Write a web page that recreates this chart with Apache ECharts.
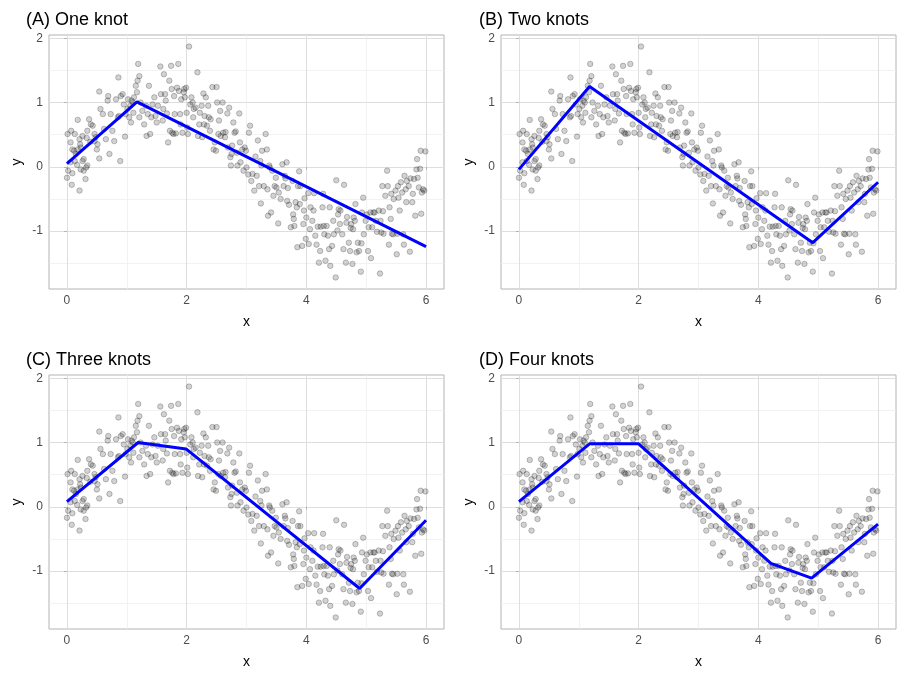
<!DOCTYPE html>
<html>
<head>
<meta charset="utf-8">
<script src="https://cdn.jsdelivr.net/npm/echarts@6/dist/echarts.min.js"></script>
<style>
  html, body { margin: 0; padding: 0; background: #fff; }
  #main { width: 905px; height: 679px; }
</style>
</head>
<body>
<div id="main"></div>
<script>
const points = [
  [0.00,-0.17],[0.02,-0.06],[0.06,0.07],[0.01,0.51],[0.07,0.56],[0.13,0.51],[0.06,0.38],[0.09,0.27],
  [0.12,0.25],[0.15,0.20],[0.18,0.73],[0.21,0.43],[0.22,0.35],[0.23,0.30],[0.26,0.09],[0.28,0.12],
  [0.23,-0.04],[0.28,-0.06],[0.32,-0.01],[0.34,0.02],[0.09,-0.10],[0.08,-0.28],[0.21,-0.37],[0.31,-0.19],
  [0.33,0.45],[0.34,0.56],[0.37,0.74],[0.40,0.66],[0.43,0.64],[0.46,0.51],[0.48,0.46],[0.51,0.35],
  [0.50,0.27],[0.54,0.13],[0.46,0.40],[0.39,0.39],[0.26,0.48],[0.18,0.27],[0.13,0.09],[0.17,0.03],
  [0.54,1.17],[0.56,0.90],[0.60,0.82],[0.62,0.59],[0.65,0.43],[0.68,1.03],[0.69,1.10],[0.71,0.20],
  [0.73,0.82],[0.76,0.56],[0.79,0.40],[0.82,1.05],[0.85,0.77],[0.86,1.39],[0.87,0.79],[0.89,0.09],
  [0.90,1.10],[0.93,1.13],[0.95,0.97],[0.97,0.47],[0.98,0.82],[1.01,0.90],[1.02,1.05],[1.04,0.77],
  [1.06,0.95],[1.07,0.69],[1.08,1.03],[1.10,1.00],[1.11,0.84],[1.12,1.08],
  [1.15,1.26],[1.18,1.34],[1.21,1.41],[1.19,1.60],[1.17,1.16],[1.21,0.77],[1.23,1.00],[1.26,0.87],
  [1.29,0.66],[1.32,0.95],[1.33,0.48],[1.35,0.82],[1.37,1.26],[1.39,0.51],[1.41,0.77],[1.43,0.97],
  [1.46,1.08],[1.48,0.79],[1.50,0.69],[1.52,0.95],[1.56,1.56],[1.57,1.13],[1.60,0.72],[1.61,0.90],
  [1.62,1.44],[1.64,1.13],[1.65,1.03],[1.67,0.83],[1.69,0.38],[1.71,1.34],[1.72,0.56],[1.74,1.57],
  [1.75,1.21],[1.76,0.53],[1.78,0.51],[1.79,1.10],[1.80,0.82],[1.82,0.52],[1.84,1.23],[1.86,1.60],
  [1.87,1.18],[1.89,0.82],[1.90,0.66],[1.91,1.05],[1.93,0.53],[1.95,1.16],[1.96,1.21],[1.97,1.08],
  [1.99,1.23],[2.00,0.84],[2.01,0.61],[2.04,1.87],[2.02,0.51],
  [2.06,0.97],[2.08,1.08],[2.10,1.00],[2.11,0.77],[2.12,0.90],[2.15,0.92],[2.18,1.47],[2.19,0.48],
  [2.21,0.66],[2.22,0.84],[2.25,0.95],[2.26,0.46],[2.28,1.14],[2.29,0.66],[2.30,0.79],[2.32,1.08],
  [2.34,0.64],[2.36,0.95],[2.37,0.77],[2.39,0.56],[2.40,0.74],[2.43,1.24],[2.45,0.27],[2.47,0.38],
  [2.49,0.25],[2.50,1.24],[2.51,1.00],[2.53,0.51],[2.54,0.72],[2.56,0.87],[2.57,0.48],[2.60,1.00],
  [2.61,0.53],[2.64,0.46],[2.65,0.54],[2.68,0.83],[2.69,0.30],[2.71,0.92],[2.73,0.15],[2.74,0.02],
  [2.75,0.20],[2.76,0.33],[2.78,0.69],[2.80,0.53],[2.82,0.55],[2.84,0.22],[2.85,0.02],[2.88,0.83],
  [2.89,0.38],[2.90,0.07],[2.93,0.27],[2.95,-0.06],[2.97,0.30],[2.99,0.25],[3.00,-0.01],
  [3.03,-0.12],[3.04,0.53],[3.06,0.64],[3.08,-0.22],[3.10,-0.11],[3.13,-0.37],[3.15,0.16],[3.17,-0.14],
  [3.19,0.41],[3.21,-0.30],[3.23,0.09],[3.24,-0.57],[3.25,0.02],[3.26,0.25],[3.29,-0.30],[3.32,0.51],
  [3.34,0.27],[3.35,-0.35],[3.36,-0.76],[3.38,0.02],[3.39,-0.01],[3.41,-0.71],[3.43,-0.06],[3.45,-0.45],
  [3.47,-0.30],[3.49,-0.17],[3.50,-0.32],[3.53,-0.88],[3.54,-0.40],[3.57,-0.50],[3.60,0.04],[3.62,-0.30],
  [3.64,-0.14],[3.65,-0.18],[3.67,0.07],[3.68,-0.53],[3.69,-0.33],[3.71,-0.59],[3.74,-0.94],[3.77,-0.22],
  [3.78,-0.74],[3.79,-0.81],[3.80,-0.92],[3.82,-0.55],[3.84,-0.63],[3.85,-1.25],[3.86,-0.30],[3.88,-0.07],
  [3.89,-0.58],[3.90,-0.30],[3.93,-1.23],[3.95,-0.89],[3.96,-0.68],[3.97,-0.49],[3.99,-1.12],[4.00,-0.79],
  [4.03,-0.41],[4.04,-1.20],[4.06,-0.97],[4.07,-0.63],[4.10,-0.84],[4.12,-0.68],[4.13,-0.41],[4.15,-1.07],
  [4.17,-1.21],[4.19,-0.93],[4.21,-1.49],[4.23,-1.31],[4.24,-0.93],[4.27,-0.63],[4.28,-0.42],[4.29,-0.92],
  [4.30,-1.05],[4.32,-1.46],[4.34,-0.92],[4.36,-1.07],[4.38,-1.28],[4.39,-0.63],[4.40,-1.54],[4.43,-1.23],
  [4.45,-0.84],[4.46,-1.05],[4.49,-1.72],[4.50,-0.21],[4.52,-0.99],[4.53,-0.74],[4.54,-0.66],[4.56,-0.89],
  [4.57,-0.68],[4.60,-1.05],[4.62,-1.28],[4.63,-0.28],[4.66,-1.49],[4.67,-0.87],[4.68,-0.78],[4.71,-1.18],
  [4.73,-1.31],[4.74,-0.95],[4.75,-0.89],[4.77,-1.51],[4.78,-0.97],[4.79,-0.79],[4.81,-0.84],[4.82,-0.58],
  [4.84,-1.33],[4.86,-1.18],[4.88,-1.31],[4.91,-1.63],[4.92,-1.19],[4.93,-0.71],[4.95,-0.48],[4.96,-1.05],
  [4.99,-0.84],[5.01,-0.74],[5.03,-1.31],[5.04,-0.94],[5.07,-0.71],[5.08,-1.42],
  [5.10,-0.94],[5.12,-0.71],[5.14,-0.71],[5.16,-0.84],[5.18,-1.01],[5.21,-0.68],[5.23,-1.66],[5.24,-0.84],
  [5.25,-1.02],[5.27,-0.30],[5.28,-0.69],[5.29,-1.04],[5.32,-0.45],[5.35,-0.06],[5.36,-0.30],[5.38,-1.21],
  [5.39,-0.63],[5.41,-0.81],[5.42,-0.42],[5.43,-1.04],[5.45,-1.05],[5.46,-0.50],[5.49,-0.37],[5.51,-1.36],
  [5.52,-1.04],[5.53,-0.30],[5.54,-0.48],[5.56,-0.68],[5.58,-0.24],[5.60,-0.40],[5.62,-1.05],[5.63,-1.21],
  [5.64,-0.14],[5.66,-0.35],[5.67,-0.55],[5.68,-0.22],[5.71,-0.30],[5.73,-1.32],[5.74,-0.18],[5.77,-0.55],
  [5.78,-0.42],[5.80,-0.19],[5.82,-0.76],[5.84,-0.04],[5.85,0.12],[5.86,-0.17],[5.88,-0.32],[5.90,-0.03],
  [5.91,0.25],[5.92,-0.73],[5.93,-0.40],[5.95,-0.35],[5.97,-0.37],[5.99,0.24]
];

// fitted piecewise-linear splines (knot positions and fitted values)
const fitOne   = [[0, 0.05], [1.17, 1.01], [6, -1.24]];
const fitTwo   = [[0, -0.04], [1.18, 1.25], [4.91, -1.18], [6, -0.24]];
const fitThree = [[0, 0.08], [1.19, 1.0], [1.99, 0.9], [4.89, -1.27], [6, -0.21]];
const fitFour  = [[0, 0.08], [1.18, 0.98], [2.0, 0.98], [4.21, -0.88], [4.89, -1.11], [6, -0.27]];

const panelTitles = ['(A) One knot', '(B) Two knots', '(C) Three knots', '(D) Four knots'];
const fits = [fitOne, fitTwo, fitThree, fitFour];

const xTicks = [0, 2, 4, 6];
const xMinor = [1, 3, 5];
const yTicks = [-1, 0, 1, 2];
const yMinor = [-1.5, -0.5, 0.5, 1.5];

const xRange = [-0.3, 6.3];
const yRange = [-1.9, 2.05];

let chartDom = document.getElementById('main');
let myChart = echarts.init(chartDom, null, { renderer: 'canvas' });

const font = 'Liberation Sans, Arial, Helvetica, sans-serif';
// panel boxes
const boxes = [
  { left: 49, top: 35 },
  { left: 501, top: 35 },
  { left: 49, top: 375 },
  { left: 501, top: 375 }
];
const titlePos = [
  { left: 21, top: 6 },
  { left: 474, top: 6 },
  { left: 21, top: 346 },
  { left: 474, top: 346 }
];

let grids = [], xAxes = [], yAxes = [], series = [], titles = [];

boxes.forEach(function (b, i) {
  grids.push({
    left: b.left, top: b.top, width: 395, height: 254,
    show: true, borderColor: '#b3b3b3', borderWidth: 1, backgroundColor: 'transparent'
  });
  titles.push({
    text: panelTitles[i],
    left: titlePos[i].left, top: titlePos[i].top,
    textStyle: { fontFamily: font, fontSize: 18, fontWeight: 'normal', color: '#000' }
  });
  xAxes.push({
    gridIndex: i, type: 'value', min: xRange[0], max: xRange[1], splitNumber: 3,
    name: 'x', nameLocation: 'middle', nameGap: 26,
    nameTextStyle: { fontFamily: font, fontSize: 14, color: '#000' },
    axisLine: { show: false },
    axisTick: { show: true, length: 3, customValues: xTicks, lineStyle: { color: '#b3b3b3' } },
    axisLabel: { customValues: xTicks, margin: 6, fontFamily: font, fontSize: 12, color: '#4d4d4d' },
    splitLine: { show: false }
  });
  yAxes.push({
    gridIndex: i, type: 'value', min: yRange[0], max: yRange[1], splitNumber: 4,
    name: 'y', nameLocation: 'middle', nameGap: 25, nameRotate: 90,
    nameTextStyle: { fontFamily: font, fontSize: 14, color: '#000' },
    axisLine: { show: false },
    axisTick: { show: true, length: 3, customValues: yTicks, lineStyle: { color: '#b3b3b3' } },
    axisLabel: { customValues: yTicks, margin: 6, fontFamily: font, fontSize: 12, color: '#4d4d4d' },
    splitLine: { show: false }
  });

  // grid lines drawn as mark lines so they sit on the tick values
  let gl = [];
  xMinor.forEach(v => gl.push({ xAxis: v, lineStyle: { color: '#efefef', width: 0.8, type: 'solid' } }));
  yMinor.forEach(v => gl.push({ yAxis: v, lineStyle: { color: '#efefef', width: 0.8, type: 'solid' } }));
  xTicks.forEach(v => gl.push({ xAxis: v, lineStyle: { color: '#dedede', width: 1, type: 'solid' } }));
  yTicks.forEach(v => gl.push({ yAxis: v, lineStyle: { color: '#dedede', width: 1, type: 'solid' } }));
  series.push({
    type: 'line', xAxisIndex: i, yAxisIndex: i, data: [], silent: true, z: 0,
    markLine: { silent: true, symbol: ['none', 'none'], z: 0, animation: false,
      label: { show: false }, emphasis: { disabled: true }, data: gl }
  });

  series.push({
    type: 'scatter', xAxisIndex: i, yAxisIndex: i, data: points,
    symbolSize: 5.5, silent: true, z: 2,
    itemStyle: { color: 'rgba(0,0,0,0.22)', borderColor: 'rgba(0,0,0,0.4)', borderWidth: 0.7 }
  });
  series.push({
    type: 'line', xAxisIndex: i, yAxisIndex: i, data: fits[i],
    showSymbol: false, silent: true, z: 3,
    lineStyle: { color: '#0000ff', width: 3 }
  });
});

let option = {
  animation: false,
  backgroundColor: '#ffffff',
  title: titles,
  grid: grids,
  xAxis: xAxes,
  yAxis: yAxes,
  series: series
};

option && myChart.setOption(option);
</script>
</body>
</html>
